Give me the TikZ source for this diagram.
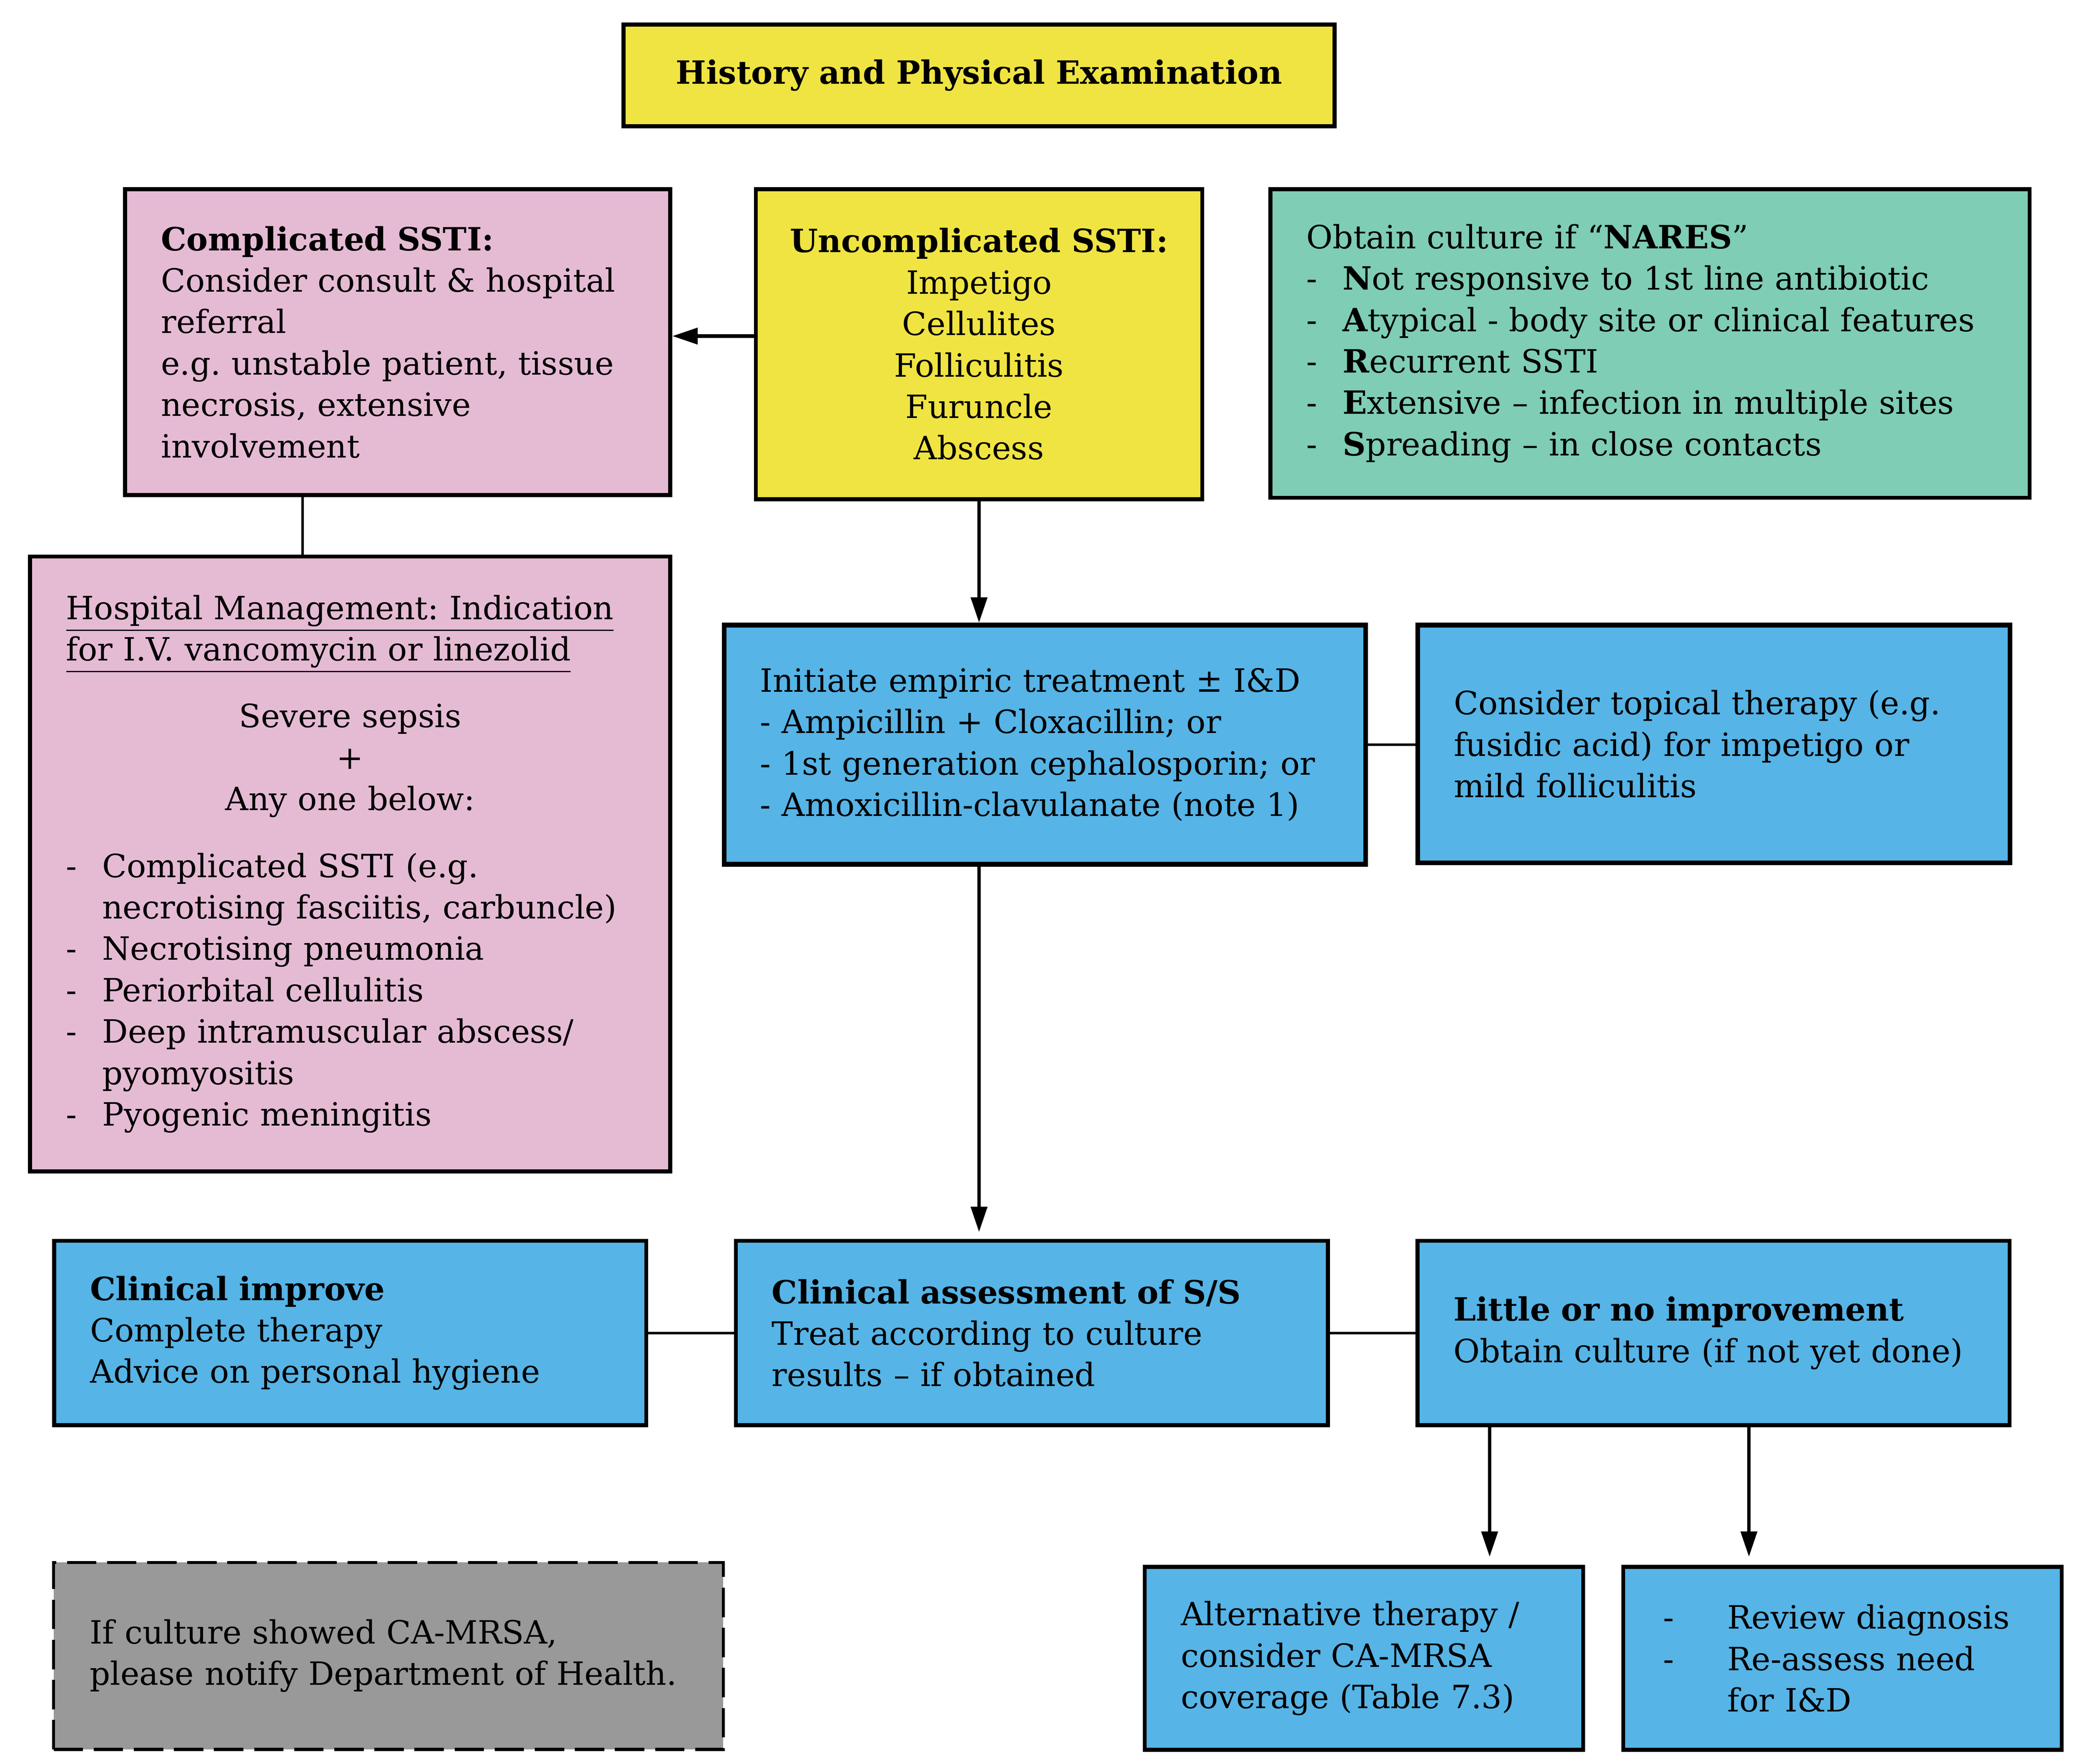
\documentclass[tikz,border=0pt]{standalone}
\usepackage{fontspec}
\setmainfont{DejaVu Serif}
\usetikzlibrary{arrows.meta}

\definecolor{hpyellow}{HTML}{F0E442}
\definecolor{hppink}{HTML}{E5BBD4}
\definecolor{hpteal}{HTML}{7ECDB4}
\definecolor{hpblue}{HTML}{56B4E6}
\definecolor{hpgrey}{HTML}{999999}

\newcommand{\dashitem}{\makebox[13.5pt][l]{-}}
\newcommand{\hangsp}{\hspace*{13.5pt}}
\frenchspacing

\begin{document}
\begin{tikzpicture}[x=0.5pt,y=-0.5pt,
  box/.style={draw, line width=1.5pt, anchor=north west, inner xsep=13.5pt,
    inner ysep=0pt, align=left, font=\fontsize{12pt}{15.5pt}\selectfont},
  link/.style={line width=0.9pt},
  flow/.style={line width=1.3pt, -{Triangle[length=9.5pt,width=6pt]}}]
\useasboundingbox (0,0) rectangle (1559.2,1320);

% top row
\node[box, fill=hpyellow, align=center, text width=239pt, minimum height=38pt] (hpe) at (465,17)
  {\textbf{History and Physical Examination}};
\node[box, fill=hppink, text width=177pt, minimum height=114.5pt] (comp) at (92,140)
  {\textbf{Complicated SSTI:}\\
   Consider consult \& hospital\\
   referral\\
   e.g. unstable patient, tissue\\
   necrosis, extensive\\
   involvement};
\node[box, fill=hpyellow, align=center, inner xsep=4pt, text width=159pt, minimum height=116pt] (unc) at (564,140)
  {\textbf{Uncomplicated SSTI:}\\
   Impetigo\\ Cellulites\\ Folliculitis\\ Furuncle\\ Abscess};
\node[box, fill=hpteal, text width=257pt, minimum height=115.5pt] (nares) at (949,140)
  {Obtain culture if “\textbf{NARES}”\\
   \dashitem\textbf{N}ot responsive to 1st line antibiotic\\
   \dashitem\textbf{A}typical - body site or clinical features\\
   \dashitem\textbf{R}ecurrent SSTI\\
   \dashitem\textbf{E}xtensive – infection in multiple sites\\
   \dashitem\textbf{S}preading – in close contacts};

% middle
\node[box, fill=hppink, text width=212.5pt, minimum height=230pt] (hosp) at (21,415)
  {\underline{Hospital Management: Indication}\\
   \underline{for I.V. vancomycin or linezolid}\\[9.5pt]
   \makebox[\linewidth]{Severe sepsis}\\
   \makebox[\linewidth]{+}\\
   \makebox[\linewidth]{Any one below:}\\[9.5pt]
   \dashitem Complicated SSTI (e.g.\\
   \hangsp necrotising fasciitis, carbuncle)\\
   \dashitem Necrotising pneumonia\\
   \dashitem Periorbital cellulitis\\
   \dashitem Deep intramuscular abscess/\\
   \hangsp pyomyositis\\
   \dashitem Pyogenic meningitis};
\node[box, fill=hpblue, line width=1.75pt, text width=213pt, minimum height=89.5pt] (emp) at (540,466)
  {Initiate empiric treatment ± I\&D\\
   - Ampicillin + Cloxacillin; or\\
   - 1st generation cephalosporin; or\\
   - Amoxicillin-clavulanate (note 1)};
\node[box, fill=hpblue, line width=1.75pt, text width=194.5pt, minimum height=89pt] (topic) at (1059,466)
  {Consider topical therapy (e.g.\\
   fusidic acid) for impetigo or\\
   mild folliculitis};

% assessment row
\node[box, fill=hpblue, text width=194.5pt, minimum height=69pt] (improve) at (39,927)
  {\textbf{Clinical improve}\\
   Complete therapy\\
   Advice on personal hygiene};
\node[box, fill=hpblue, text width=194.5pt, minimum height=69pt] (assess) at (549,927)
  {\textbf{Clinical assessment of S/S}\\
   Treat according to culture\\
   results – if obtained};
\node[box, fill=hpblue, text width=194.5pt, minimum height=69pt] (little) at (1059,927)
  {\textbf{Little or no improvement}\\
   Obtain culture (if not yet done)};

% bottom row
\node[box, fill=hpgrey, line width=1.1pt, dash pattern=on 11pt off 4pt, text width=223.5pt, minimum height=70pt] (notify) at (39,1168)
  {If culture showed CA-MRSA,\\
   please notify Department of Health.};
\node[box, fill=hpblue, text width=137pt, minimum height=68.5pt] (alt) at (855,1171)
  {Alternative therapy /\\
   consider CA-MRSA\\
   coverage (Table 7.3)};
\node[box, fill=hpblue, inner xsep=15pt, text width=134pt, minimum height=68.5pt] (review) at (1213,1171)
  {\makebox[24pt][l]{-}Review diagnosis\\
   \makebox[24pt][l]{-}Re-assess need\\
   \hspace*{24pt}for I\&D};

% connectors
\draw[flow] ([yshift=3pt]unc.west) -- ([yshift=3pt]unc.west -| comp.east);
\draw[link] (comp.south) ++(-71,0) coordinate (c1) -- (c1 |- hosp.north);
\draw[flow] (unc.south) -- (unc.south |- emp.north);
\draw[flow] (emp.south -| unc.south) -- ([yshift=2.5pt]assess.north -| unc.south);
\draw[link] (emp.east) -- (emp.east -| topic.west);
\draw[link] (improve.east) -- (assess.west);
\draw[link] (assess.east) -- (little.west);
\draw[flow] (little.south) ++(-167.5,0) coordinate (l1) -- ([yshift=3pt]l1 |- alt.north);
\draw[flow] (little.south) ++(26.5,0) coordinate (l2) -- ([yshift=3pt]l2 |- review.north);
\end{tikzpicture}
\end{document}
